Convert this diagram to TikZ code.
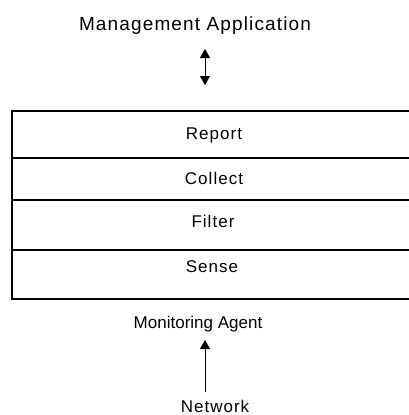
\documentclass[tikz,border=0pt]{standalone}
\usepackage{fontspec}
\setmainfont{Liberation Sans}
\newfontfamily\spacedsans{Liberation Sans}[LetterSpace=6]
\usetikzlibrary{arrows.meta}

\begin{document}
\begin{tikzpicture}[x=1pt,y=-1pt,
  layerbox/.style={draw, line width=1.3pt, minimum width=430pt, anchor=north west,
    inner sep=0pt, outer sep=0pt},
  layertext/.style={anchor=base, inner sep=0pt, font=\spacedsans\fontsize{17}{20}\selectfont},
  caption/.style={anchor=base, inner sep=0pt},
  head/.tip={Triangle[length=9pt,width=10pt]},
  flow/.style={line width=1pt, -head},
  twoway/.style={line width=1pt, head-head}
]
\useasboundingbox[fill=white] (0,0) rectangle (408,415);

% protocol stack of the agent
\node[layerbox, minimum height=47pt] (reportrow)  at (12,111) {};
\node[layerbox, minimum height=42pt] (collectrow) at (12,158) {};
\node[layerbox, minimum height=50pt] (filterrow)  at (12,200) {};
\node[layerbox, minimum height=49pt] (senserow)   at (12,250) {};

\node[layertext] (report)  at (214,139) {Report};
\node[layertext] (collect) at (214,184) {Collect};
\node[layertext] (filter)  at (213,227) {Filter};
\node[layertext] (sense)   at (212,272) {Sense};

% captions above and below the stack
\node[caption, font=\spacedsans\fontsize{19}{22}\selectfont] (mgmt) at (195,30) {Management Application};
\node[caption, font=\fontsize{17}{20}\selectfont] (agent) at (198,328) {Monitoring Agent};
\node[caption, font=\spacedsans\fontsize{17}{20}\selectfont] (net) at (215,412) {Network};

% arrows
\coordinate (apptop) at (205,49);
\coordinate (appbot) at (205,85);
\draw[twoway] (apptop) -- (appbot);

\coordinate (netfoot) at (205,392);
\coordinate (agentfoot) at (205,340);
\draw[flow] (netfoot) -- (agentfoot);
\end{tikzpicture}
\end{document}
